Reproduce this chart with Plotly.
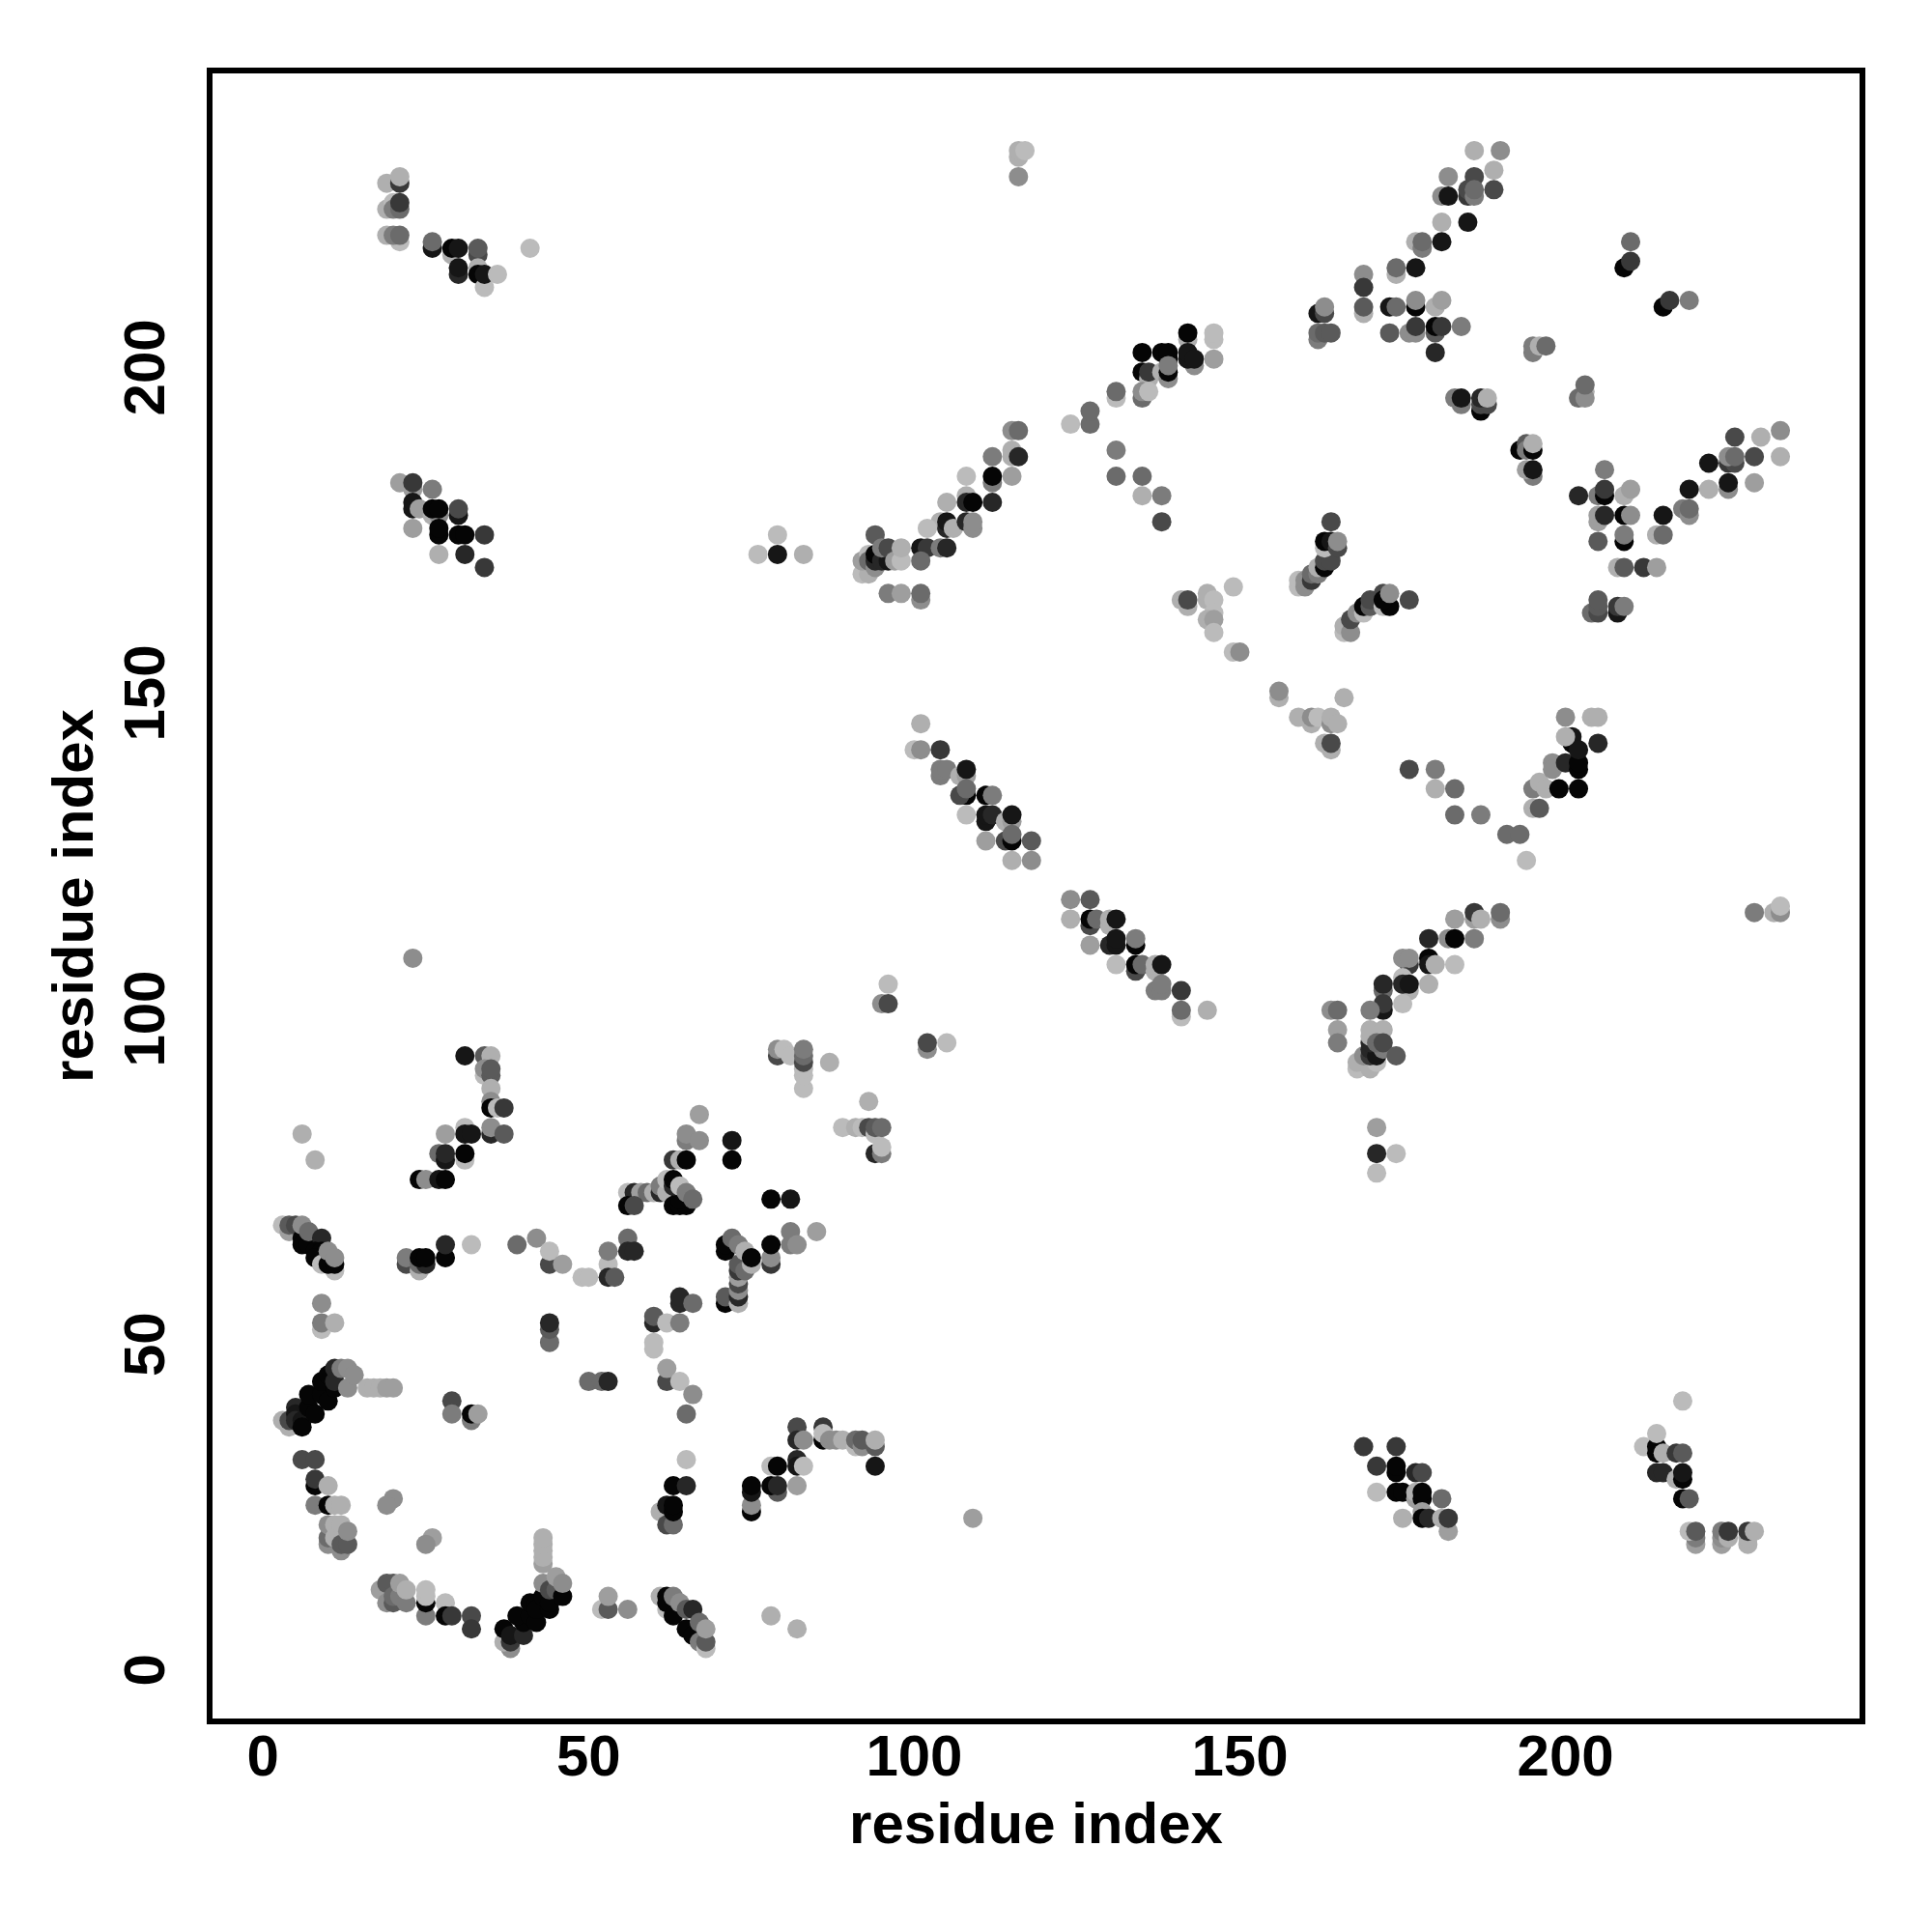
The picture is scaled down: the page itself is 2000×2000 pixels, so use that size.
import plotly.graph_objects as go

# (residue i, residue j, shade 0-11 where shade*17 = grey level); later entries paint on top
region_low_left = [
(9,56,8),(9,52,11),(9,53,7),(11,53,10),
(3,38,10),(4,37,10),(4,38,4),(5,40,2),(5,39,1),(5,38,2),(6,38,1),(6,37,0),(7,40,0),(8,39,0),(7,42,0),(9,42,0),(10,41,0),(9,44,0),
(10,45,0),(11,43,0),(11,44,2),(11,46,2),(12,46,7),(13,46,8),(13,43,8),(14,45,8),
(16,43,10),(17,43,10),(18,43,10),(19,43,9),(20,43,9),
(29,41,4),(29,39,7),(32,38,7),(32,39,0),(33,39,9),
(6,32,4),(8,32,4),(8,28,0),(8,29,3),(10,28,10),
(8,25,7),(10,25,0),(11,25,10),(12,25,10),
(10,19,8),(10,20,6),(10,22,8),(11,20,10),(11,22,10),(12,22,10),(12,18,8),(12,19,5),(13,19,5),(13,21,8),
(20,26,8),(19,25,8),(26,20,9),(25,19,8),
(43,16,9),(43,17,10),(43,18,10),(43,19,10),(43,20,10),
(38,3,8),(37,4,10),(38,4,3),(37,6,0),(38,5,1),(40,5,2),(40,7,0),(39,8,0),(41,8,0),(42,7,0),(41,10,0),(42,10,0),(42,9,0),(43,11,0),(44,9,0),(44,10,0),
(43,13,8),(44,12,4),(45,12,5),(46,11,0),(45,14,9),(46,13,8),
(18,12,9),(19,10,8),(20,10,5),(19,13,5),(20,13,5),(20,11,6),(21,11,7),(21,13,9),(22,10,7),(22,12,10),
(25,8,7),(25,10,0),(25,11,11),(25,12,11),(28,10,11),(28,8,0),(29,8,3),(32,8,4),(32,6,3),
(52,9,11),(53,9,5),(53,11,9),(56,9,8),
(61,11,10),(62,9,11),(62,11,0),(62,10,0),(63,8,0),(63,11,7),(64,10,8),(65,9,5),(65,6,0),(66,9,2),(66,5,0),(67,7,6),(67,4,7),(68,3,11),(68,4,5),(68,6,9),
(78,8,10),(82,6,10),(109,23,9),
]
region_low_mid = [
(60,49,11),(60,50,11),(62,44,4),(62,46,9),(64,44,11),(66,42,8),(65,39,6),
(65,32,11),(63,28,0),(65,28,2),(61,24,10),(62,22,4),(63,22,6),(62,25,1),(63,24,0),(63,25,0),
(75,24,0),(75,25,8),(75,27,1),(75,28,0),
(78,31,11),(79,31,0),(79,27,5),(78,28,0),(79,28,2),(82,28,9),
(82,32,2),(82,31,1),(83,31,11),
(82,37,4),(82,35,2),(83,35,8),(86,37,3),(86,35,0),(86,36,11),(87,35,8),(88,35,8),(89,35,10),
(91,34,11),(91,35,6),(92,34,8),(92,35,5),(94,34,5),(94,35,10),(94,31,1),
(50,44,6),(52,44,6),(53,44,2),
(60,53,2),(60,54,5),(62,53,11),(64,53,7),(64,56,2),(64,57,2),(66,56,6),
(44,50,6),(44,52,5),(44,53,2),
]
region_mid_left = [
(31,94,1),(34,94,5),(35,94,10),(34,91,11),(34,92,8),(35,91,5),(35,92,5),(35,89,10),(35,87,8),(35,86,0),(36,86,11),(37,86,3),
(28,82,9),(31,83,11),(31,82,1),(32,82,1),(35,82,2),(35,83,8),(37,82,5),
(6,82,10),(8,78,10),(27,79,6),(28,78,1),(28,79,2),(31,78,11),(31,79,0),
(24,75,0),(25,75,8),(27,75,1),(28,75,0),
(3,68,11),(4,67,9),(4,68,5),(5,68,4),(6,66,0),(6,65,0),(7,65,0),(6,68,8),(7,67,6),(9,66,2),(8,64,0),(9,64,0),(8,63,0),(9,62,11),(11,61,11),(10,62,0),(11,62,0),(10,64,8),(11,63,8),
(22,62,4),(22,63,7),(24,61,10),(24,62,6),(25,62,2),(24,63,0),(25,63,0),(28,63,0),(28,65,2),(32,65,11),
(39,65,6),(42,66,8),(44,62,4),(44,64,11),(46,62,9),(49,60,11),(50,60,11),(53,62,11),(53,64,7),(53,60,2),(54,60,5),(56,66,6),(56,64,2),(57,64,2),
(23,109,8),
]
region_mid_centre = [
(96,105,11),(95,102,8),(96,102,4),(102,95,8),(102,96,4),(105,96,11),
(79,94,4),(79,95,8),(80,95,11),(81,94,11),(83,89,11),(83,91,11),(83,92,11),(83,93,4),(83,94,6),(83,95,7),(87,93,10),
(93,87,10),(89,83,11),(91,83,10),(92,83,11),(93,83,4),(94,82,11),(94,83,5),(95,83,6),(94,79,2),(95,79,7),(95,80,11),
(67,85,9),(65,81,7),(65,82,8),(67,81,8),(72,81,1),(72,78,0),(63,78,3),(64,78,10),(65,78,0),
(56,73,11),(57,73,2),(58,73,9),(59,73,6),(60,73,10),(61,73,2),(61,74,7),(62,73,10),(62,75,11),(63,71,0),(64,71,0),(65,71,0),(64,72,0),(63,74,2),(63,75,0),(64,74,11),(65,73,7),(66,72,6),
(56,71,0),(57,71,4),(78,72,0),(81,72,1),(81,65,7),(81,67,7),(82,65,8),(85,67,9),
(78,62,3),(78,63,8),(78,65,0),
(71,56,0),(71,57,5),(73,56,10),(73,57,2),(73,58,8),(73,59,4),(73,60,9),(73,61,3),(73,62,5),(74,61,6),(71,64,0),(71,65,0),(72,66,6),(73,65,7),(74,64,10),(75,62,10),(75,63,0),
]
region_low_right = [
(169,34,3),(174,34,3),(171,31,3),(174,30,0),(174,31,0),(177,30,2),(178,30,4),(171,27,11),(174,27,0),(175,27,0),(177,26,9),(177,27,10),(178,26,0),(178,27,0),(181,26,6),
(178,24,9),(175,23,10),(178,23,0),(179,23,2),(181,23,10),(182,21,9),(182,23,3),
(218,41,11),(212,34,11),(214,33,0),(214,34,0),(214,36,11),(215,33,10),(217,33,3),(218,33,5),(214,30,2),(215,30,2),(217,29,10),(218,29,0),(218,30,1),(218,26,0),(219,26,5),
(220,19,9),(220,20,7),(219,21,11),(220,21,5),(224,19,9),(224,20,8),(224,21,7),(225,20,10),(225,21,3),(228,19,10),(228,20,10),(228,21,3),(229,21,10),
]
region_mid_right = [
(183,115,9),(186,115,9),(186,116,3),(187,115,10),(190,115,8),(190,116,6),(229,116,7),(232,116,10),(233,116,8),(233,117,11),
(179,112,2),(182,112,8),(183,112,0),(186,112,7),(176,108,3),(175,109,8),(176,109,8),(179,109,0),(179,108,1),(180,108,10),(183,108,11),
(172,104,6),(172,105,2),(175,106,11),(176,104,10),(175,105,2),(176,105,1),(179,105,10),(175,102,11),(172,101,1),(172,102,3),(170,101,7),
(164,101,8),(165,101,6),(165,98,9),(165,96,7),
(168,92,11),(168,93,10),(170,92,10),(171,93,11),(169,94,8),(170,94,3),(170,95,2),(171,94,1),(170,96,2),(170,97,10),(170,98,10),(172,98,10),(172,95,7),(171,96,6),(172,96,4),(174,94,5),
(171,83,9),(171,79,2),(174,79,11),(171,76,11),
(156,149,10),(156,150,8),(166,149,10),(159,146,10),(161,145,10),(161,146,8),(162,146,11),(164,145,8),(164,146,10),(165,145,10),(163,142,10),(164,141,10),(164,142,4),
(176,138,4),(180,138,7),(180,135,10),(183,135,6),(183,131,6),(187,131,7),(191,128,6),(193,128,6),(194,124,11),
]
region_centre_diagonals = [
(101,145,10),(100,141,11),(101,141,8),(104,141,3),(104,137,7),(104,138,7),(105,138,7),(107,137,10),(108,137,9),(108,138,1),(108,134,0),(107,134,4),(108,135,6),(111,134,0),(112,134,7),
(108,131,11),(111,130,1),(111,131,1),(112,131,2),(114,130,10),(115,130,9),(115,131,1),(114,127,4),(115,127,0),(115,128,6),(118,127,5),(111,127,9),(115,124,10),(118,124,8),
(124,118,8),(127,118,5),(124,115,10),(127,114,4),(127,115,0),(128,115,6),(130,114,10),(130,115,10),(131,115,1),(127,111,9),(130,111,2),(131,111,1),(131,112,1),(134,111,0),(134,112,7),
(131,108,11),(134,107,4),(134,108,0),(135,108,6),(137,107,10),(137,108,10),(138,108,1),(137,104,7),(138,104,7),(138,105,7),(141,104,3),(141,100,11),(141,101,6),(145,101,10),
(195,135,7),(196,136,10),(197,135,10),(195,132,10),(196,132,5),(198,139,8),(198,138,8),(199,135,0),(200,139,2),(202,135,0),(202,138,0),(202,139,0),(201,142,0),(201,143,1),(202,141,1),(200,143,10),(205,142,2),(200,146,8),(204,146,10),(205,146,10),
]
region_upper_mid = [
(142,204,10),(142,205,0),(146,204,11),(146,205,11),(146,201,9),(135,202,0),(138,202,0),(139,201,0),(139,202,0),(143,200,8),(142,201,1),(142,202,1),(143,201,1),
(135,199,0),(136,198,10),(136,199,3),(138,199,10),(139,198,8),(139,199,0),(139,200,7),
(131,195,11),(131,196,6),(135,195,6),(135,196,8),(136,196,11),(127,191,6),(127,193,6),(124,191,11),
(131,187,7),(131,183,6),(135,183,6),(135,180,10),(138,180,7),(138,176,4),
(115,190,8),(116,190,6),(115,186,10),(115,187,10),(116,186,2),(112,186,7),(115,183,9),(112,182,7),(112,183,0),(108,183,11),
(108,180,10),(108,179,2),(109,179,0),(112,179,2),(105,179,10),(104,176,10),(105,175,2),(105,176,1),(106,175,10),(108,176,2),(109,175,8),(109,176,8),(102,175,11),
(94,174,5),(101,172,1),(102,172,3),(104,172,7),(105,172,2),
(92,168,11),(93,168,10),(92,170,9),(93,171,11),(93,170,6),(94,169,8),(94,170,2),(94,171,0),(95,170,2),(96,170,1),(95,172,7),(96,172,4),(97,170,9),(98,170,11),(98,172,10),(101,170,6),
(96,165,7),(98,165,9),(101,164,8),(101,165,6),
(141,164,10),(142,163,10),(142,164,4),(145,164,10),(145,165,10),(146,164,11),(146,162,11),(145,161,10),(146,161,9),(146,159,11),(149,166,11),(149,156,11),(150,156,8),
(76,171,11),(79,174,11),(79,171,1),(83,171,10),
(116,229,8),(116,232,10),(116,233,10),(117,233,11),
]
region_upper_right = [
(159,166,11),(159,167,11),(160,166,8),(160,167,8),(161,167,3),(161,168,6),(162,168,7),(162,169,10),(163,169,0),(163,170,4),(164,170,4),(163,172,11),(163,173,0),(164,173,1),(165,172,4),(165,173,8),(164,176,4),
(166,159,11),(166,160,10),(167,159,8),(167,161,4),(168,162,8),(169,162,11),(169,163,0),(170,163,5),(170,164,4),(172,163,11),(172,165,4),(173,163,0),(172,164,0),(173,165,8),(176,164,4),
(193,187,0),(194,188,5),(194,187,7),(195,187,0),(195,188,10),(195,183,7),(194,184,9),(195,184,1),
(206,184,7),(202,180,2),(205,180,7),(206,180,0),(206,181,3),(209,180,10),(210,181,9),(205,176,9),(205,177,9),(206,177,2),(209,177,0),(210,177,8),
(205,173,5),(209,173,0),(209,174,7),(208,169,10),(209,169,5),(212,169,3),(214,169,9),(214,174,10),(215,174,6),(215,177,1),
(218,178,7),(219,177,8),(219,178,6),(219,181,1),(222,181,10),(222,185,1),(225,181,8),(225,182,1),(229,182,9),
(225,185,3),(226,185,4),(225,186,8),(226,186,6),(229,186,4),(233,186,10),(226,189,4),(230,189,10),(233,190,8),
(204,162,6),(205,162,4),(205,163,5),(205,164,5),(208,162,1),(208,163,3),(209,163,7),
(186,233,10),(190,233,8),(189,230,10),(182,229,8),(186,229,4),(181,226,8),(182,226,1),(185,226,3),(185,227,4),(186,226,7),(186,227,6),(189,227,4),
(181,222,10),(185,222,1),(177,219,10),(178,218,7),(178,219,6),(181,219,1),(174,214,10),(174,215,6),(177,215,1),
(169,214,8),(169,212,3),(169,208,10),(169,209,5),(173,209,1),(174,209,6),(177,209,0),(177,210,8),(180,209,10),(181,210,9),
(173,205,5),(176,205,8),(177,205,8),(177,206,3),(180,205,5),(180,206,0),(181,206,3),(184,206,7),(180,202,2),
(162,204,7),(162,205,6),(162,208,1),(163,208,4),(163,209,8),(163,205,5),(164,205,5),
(210,219,6),(209,215,0),(210,216,3),(215,209,0),(216,210,3),(219,210,7),
(195,202,7),(195,203,7),(196,203,10),(197,203,6),(203,196,10),(202,195,6),(203,195,8),(203,197,6),
(183,195,7),(184,194,7),(184,195,1),(187,193,0),(187,194,4),(188,194,4),(187,195,2),(188,195,10),
]
region_top_left = [
(19,228,10),(21,228,3),(21,229,10),(19,224,10),(20,225,11),(20,224,7),(21,224,6),(21,225,3),
(19,220,10),(21,219,11),(20,220,7),(21,220,6),(26,218,1),(26,219,6),
(29,217,10),(29,218,0),(30,218,1),(33,217,4),(33,218,5),(30,214,2),(30,215,1),(33,215,10),(33,214,0),(34,212,11),(34,214,1),(36,214,11),(41,218,11),
(21,182,9),(23,181,9),(23,182,3),(26,181,7),(23,178,1),(23,179,1),(24,178,9),(26,177,10),(27,177,8),(26,178,0),(27,178,0),(30,177,1),(30,178,4),
(23,175,9),(27,174,0),(27,175,0),(30,174,0),(31,174,0),(34,174,3),(27,171,10),(31,171,2),(34,169,3),
]

tick_values = [0, 50, 100, 150, 200]
axis_title = "residue index"

points = (region_low_left + region_low_mid + region_mid_left + region_mid_centre + region_low_right
          + region_mid_right + region_centre_diagonals + region_upper_mid + region_upper_right + region_top_left)
xs = [p[0] for p in points]
ys = [p[1] for p in points]
colors = ["rgb({0},{0},{0})".format(min(p[2] * 17 + 5, 187)) for p in points]

FONT = "Liberation Sans"
fig = go.Figure(go.Scatter(x=xs, y=ys, mode="markers",
                           marker=dict(size=20, color=colors, line=dict(width=0))))
axis = dict(tickvals=tick_values, ticks="", showgrid=False, zeroline=False, showline=False,
            tickfont=dict(family=FONT, size=60, color="black", weight="bold"),
            title=dict(text=axis_title, font=dict(family=FONT, size=60, color="black", weight="bold")))
fig.update_layout(
    width=2000, height=2000, autosize=False, showlegend=False,
    paper_bgcolor="white", plot_bgcolor="white",
    margin=dict(l=209, r=80, t=65, b=226),
    font=dict(family=FONT),
    xaxis=dict(axis, range=[-8.2, 245.6], ticklabelstandoff=-5),
    yaxis=dict(axis, range=[-8.2, 245.3], tickangle=-90, ticklabelstandoff=34, ticklabelshift=11),
    shapes=[dict(type="rect", xref="paper", yref="paper", x0=0, x1=1, y0=0, y1=1,
                 line=dict(color="black", width=6), fillcolor="rgba(0,0,0,0)", layer="above")],
)
fig.update_xaxes(title_standoff=15)
fig.update_yaxes(title_standoff=0)
fig.write_html("out.html")
